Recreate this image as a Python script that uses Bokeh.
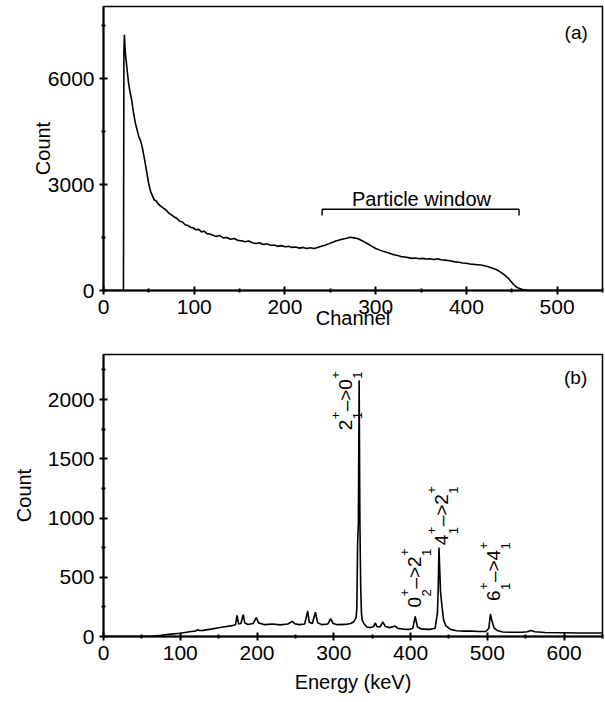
from bokeh.plotting import figure
from bokeh.layouts import column
from bokeh.models import Range1d, FixedTicker, Label
from bokeh.embed import file_html
from bokeh.resources import INLINE
import math

FONT = "Liberation Sans"

# ---------------- Panel (a): particle spectrum ----------------
channel = [0, 21, 22, 22.5, 23, 24, 25, 26, 27.5, 29, 31, 33, 35, 37, 39, 41, 43, 44, 46, 48,
           50, 52, 54, 56, 58, 60, 63, 66, 69, 72, 75, 78, 81, 84, 87, 90, 93, 96, 99, 102,
           105, 108, 111, 114, 117, 120, 124, 128, 132, 136, 140, 144, 148, 152, 156, 160, 164, 168, 172, 176,
           180, 184, 188, 192, 196, 200, 204, 208, 212, 216, 220, 224, 228, 232, 236, 240, 244, 248, 252, 256,
           260, 264, 268, 272, 276, 280, 284, 288, 292, 296, 300, 304, 308, 312, 316, 320, 324, 328, 332, 336,
           340, 344, 348, 352, 356, 360, 364, 368, 372, 376, 380, 384, 388, 392, 396, 400, 404, 408, 412, 416,
           420, 424, 428, 432, 436, 440, 443, 446, 449, 452, 455, 458, 461, 464, 468, 472, 550]
count_a = [0, 0, 0, 6720, 7240, 6750, 6500, 6250, 5900, 5650, 5400, 5050, 4750, 4550, 4350, 4230, 4020, 3880, 3600, 3300,
           3000, 2800, 2680, 2560, 2540, 2460, 2390, 2330, 2280, 2190, 2140, 2080, 2040, 1960, 1940, 1860, 1840, 1790, 1770, 1720,
           1730, 1660, 1680, 1610, 1600, 1570, 1530, 1560, 1490, 1500, 1450, 1470, 1420, 1410, 1380, 1400, 1350, 1330, 1350, 1300,
           1320, 1280, 1290, 1250, 1270, 1240, 1250, 1220, 1230, 1200, 1220, 1190, 1210, 1190, 1220, 1250, 1280, 1320, 1360, 1400,
           1430, 1460, 1480, 1510, 1490, 1470, 1420, 1370, 1310, 1250, 1190, 1150, 1110, 1080, 1050, 1010, 990, 960, 950, 930,
           910, 920, 900, 910, 890, 900, 880, 900, 870, 860, 850, 830, 810, 800, 780, 770, 750, 740, 730, 720,
           700, 670, 640, 600, 550, 480, 420, 350, 260, 170, 100, 60, 35, 18, 8, 0, 0]

a_xticks = [0, 100, 200, 300, 400, 500]
a_xminor = [50, 150, 250, 350, 450, 550]
a_yticks = [0, 3000, 6000]
a_yminor = [1500, 4500, 7500]

window_start = 241
window_end = 458
window_level = 2300
window_foot = 2120
window_text = "Particle window"

# ---------------- Panel (b): gamma spectrum ----------------
energy = [0, 50, 65, 75, 85, 100, 110, 120, 122, 125, 130, 140, 150, 160, 168, 172, 174, 176, 179, 182,
          184, 188, 195, 199, 202, 210, 220, 230, 240, 246, 249, 255, 262, 266, 268, 272, 276, 279, 285, 292,
          296, 299, 305, 315, 322, 326, 329, 330, 331, 332, 333, 334, 335, 336, 337, 339, 343, 348, 352, 354,
          356, 360, 364, 367, 373, 380, 383, 390, 398, 403, 406, 409, 415, 425, 432, 435, 436, 437, 438, 439,
          441, 443, 446, 452, 460, 470, 480, 490, 498, 502, 504, 506, 509, 513, 520, 530, 545, 552, 557, 562,
          575, 600, 620, 650]
count_b = [0, 0, 3, 10, 18, 28, 38, 46, 56, 50, 52, 62, 74, 85, 92, 100, 178, 105, 110, 185,
           115, 102, 110, 160, 115, 100, 105, 98, 105, 128, 108, 100, 105, 215, 120, 110, 205, 115, 100, 105,
           150, 110, 100, 102, 110, 125, 160, 240, 780, 960, 2160, 960, 420, 200, 140, 110, 80, 75, 85, 115,
           85, 80, 122, 85, 75, 88, 70, 62, 60, 70, 170, 80, 62, 60, 70, 200, 390, 750, 560, 380,
           250, 140, 90, 60, 48, 45, 45, 42, 42, 70, 190, 130, 70, 50, 38, 36, 36, 40, 50, 40,
           34, 32, 30, 30]

b_xticks = [0, 100, 200, 300, 400, 500, 600]
b_xminor = [50, 150, 250, 350, 450, 550, 650]
b_yticks = [0, 500, 1000, 1500, 2000]
b_yminor = [250, 750, 1250, 1750, 2250]

# transition labels: (energy of baseline, start count, initial J, sub, final J, sub)
trans_x = [315, 440, 405, 508]
trans_y = [1740, 770, 245, 300]
trans_i = ["2", "4", "0", "6"]
trans_i_sub = ["1", "1", "2", "1"]
trans_f = ["0", "2", "2", "4"]
trans_f_sub = ["1", "1", "1", "1"]


def style(p, xt, xm, yt, ym, xlabel, ylabel, xstand, ystand):
    p.xgrid.visible = False
    p.ygrid.visible = False
    p.outline_line_color = "black"
    p.outline_line_width = 1.5
    p.background_fill_color = "white"
    p.border_fill_color = "white"
    p.xaxis.ticker = FixedTicker(ticks=xt, minor_ticks=xm)
    p.yaxis.ticker = FixedTicker(ticks=yt, minor_ticks=ym)
    for ax in (p.xaxis[0], p.yaxis[0]):
        ax.axis_line_width = 2
        ax.axis_line_color = "black"
        ax.major_tick_line_width = 2
        ax.minor_tick_line_width = 2
        ax.major_tick_in = 4
        ax.major_tick_out = 4
        ax.minor_tick_in = 2
        ax.minor_tick_out = 2
        ax.major_label_text_font = FONT
        ax.major_label_text_font_size = "21px"
        ax.major_label_text_color = "black"
        ax.major_label_standoff = 5
        ax.axis_label_text_font = FONT
        ax.axis_label_text_font_size = "20px"
        ax.axis_label_text_font_style = "normal"
        ax.axis_label_text_color = "black"
    p.xaxis.axis_label = xlabel
    p.yaxis.axis_label = ylabel
    p.xaxis.axis_label_standoff = xstand
    p.yaxis.axis_label_standoff = ystand


# ---------- figure (a)
pa = figure(width=605, height=340, output_backend="svg", toolbar_location=None,
            x_range=Range1d(0, 550), y_range=Range1d(0, 8040),
            min_border_left=100, min_border_right=2, min_border_top=6, min_border_bottom=50)
style(pa, a_xticks, a_xminor, a_yticks, a_yminor, "Channel", "Count", -10, -9)
pa.line(channel, count_a, line_color="black", line_width=1.6)
pa.line([window_start, window_start, window_end, window_end],
        [window_foot, window_level, window_level, window_foot], line_color="black", line_width=1.4)
pa.add_layout(Label(x=(window_start + window_end) / 2 + 1, y=2600, text=window_text,
                    text_align="center", text_baseline="alphabetic",
                    text_font=FONT, text_font_size="20px", text_color="black"))
pa.add_layout(Label(x=521, y=7290, text="(a)", text_align="center", text_baseline="middle",
                    text_font=FONT, text_font_size="19px", text_color="black"))

# ---------- figure (b)
pb = figure(width=605, height=362, output_backend="svg", toolbar_location=None,
            x_range=Range1d(0, 650), y_range=Range1d(0, 2380),
            min_border_left=103, min_border_right=3, min_border_top=14, min_border_bottom=66)
style(pb, b_xticks, b_xminor, b_yticks, b_yminor, "Energy (keV)", "Count", 8, 10)
pb.line(energy, count_b, line_color="black", line_width=1.6)
pb.add_layout(Label(x=615, y=2185, text="(b)", text_align="center", text_baseline="middle",
                    text_font=FONT, text_font_size="19px", text_color="black"))

MAIN = "19px"
SMALL = "13px"
ang = math.pi / 2


def piece(p, x, y, txt, u, v, size):
    p.add_layout(Label(x=x, y=y, x_offset=v, y_offset=u, text=txt, angle=ang,
                       text_align="left", text_baseline="alphabetic",
                       text_font=FONT, text_font_size=size, text_color="black"))


for x, y, a, asub, b, bsub in zip(trans_x, trans_y, trans_i, trans_i_sub, trans_f, trans_f_sub):
    piece(pb, x, y, a, 0, 0, MAIN)
    piece(pb, x, y, "+", 11, -10, SMALL)
    piece(pb, x, y, asub, 11, 12, SMALL)
    piece(pb, x, y, "\u2013", 19, 0, MAIN)
    piece(pb, x, y, ">", 29.5, 0, MAIN)
    piece(pb, x, y, b, 40.5, 0, MAIN)
    piece(pb, x, y, "+", 51.5, -10, SMALL)
    piece(pb, x, y, bsub, 51.5, 12, SMALL)

layout = column(pa, pb, spacing=0)
open("out.html", "w").write(file_html(layout, INLINE))
